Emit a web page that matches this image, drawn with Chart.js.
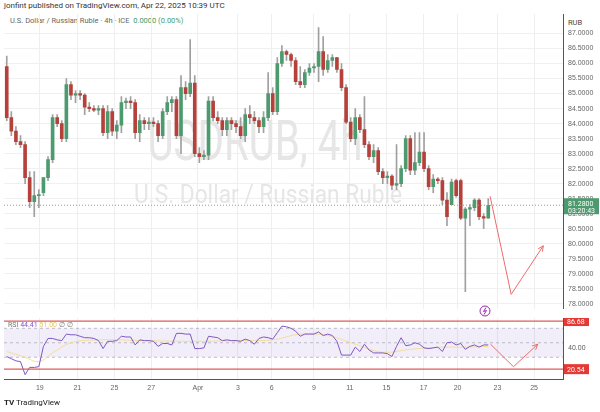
<!DOCTYPE html>
<html>
<head>
<meta charset="utf-8">
<script src="https://cdn.jsdelivr.net/npm/chart.js@4.4.1/dist/chart.umd.min.js"></script>
<style>
  body { margin: 0; width: 600px; height: 412px; background: #fff; font-family: Roboto, "Noto Sans", sans-serif; overflow: hidden; position: relative; }
  #priceWrap { position: absolute; left: 0; top: 0; width: 600px; height: 318px; }
  #rsiWrap { position: absolute; left: 0; top: 318px; width: 600px; height: 78px; }
  .txt { position: absolute; white-space: nowrap; }
</style>
</head>
<body>
<div class="txt" style="left:4px;top:1px;font-size:8px;color:#333;">jonfint published on TradingView.com, Apr 22, 2025 10:39 UTC</div>
<div class="txt" style="left:10px;top:16px;font-size:7.5px;color:#666;">U.S. Dollar / Russian Ruble · 4h · ICE &nbsp;<span style="color:#3f9a6a">0.0000 (0.00%)</span></div>
<div class="txt" style="left:568px;top:18px;font-size:7.5px;color:#444;">RUB</div>
<div id="priceWrap"><canvas id="priceChart"></canvas></div>
<div id="rsiWrap"><canvas id="rsiChart"></canvas></div>
<div class="txt" style="left:8px;top:321px;font-size:7px;color:#777;">RSI <span style="color:#7e57c2">44.41</span> <span style="color:#e8c66a">51.00</span> ∅ ∅</div>
<div class="txt" style="left:4px;top:398px;font-size:8px;color:#222;"><b>TV</b> TradingView</div>
<script>
// Candles (4h), index = position on the time axis
const opens  = [85.9,84.2,83.75,83.4,83.3,82.2,81.4,81.6,81.7,82.2,82.8,84.2,84.0,83.5,85.3,84.95,85.0,84.95,84.55,84.5,84.45,84.5,83.7,84.4,83.75,83.95,84.7,84.75,84.7,83.7,84.1,84.0,84.05,84.0,83.6,84.4,84.7,84.8,83.6,85.2,85.0,85.35,83.0,82.9,82.95,84.75,84.2,84.1,83.8,84.1,84.0,83.9,83.6,84.3,84.2,84.1,83.9,84.2,85.0,84.4,86.0,86.4,86.3,86.1,85.4,85.3,85.7,85.85,85.9,86.4,85.8,86.1,86.2,85.8,85.2,84.05,83.5,84.2,83.8,83.3,82.9,83.1,82.4,82.2,82.25,81.95,82.0,82.5,83.5,82.45,82.7,83.05,82.5,81.9,82.15,82.1,81.45,81.3,82.1,82.1,80.85,81.15,81.2,81.45,80.9,80.85];
const highs  = [86.25,84.4,83.9,83.6,83.4,82.4,82.4,81.8,82.2,82.9,84.3,84.3,84.1,85.5,85.4,85.1,85.1,85.0,84.7,84.6,84.6,84.6,84.6,84.5,84.1,84.9,84.85,84.9,84.8,84.3,84.2,84.2,84.2,84.1,84.5,84.9,84.9,84.9,85.6,85.4,86.8,85.6,83.2,83.1,84.9,84.9,84.4,84.2,84.2,84.2,84.1,84.2,84.5,84.6,84.4,84.2,84.4,85.7,85.2,86.2,86.6,86.45,86.35,86.2,85.9,85.8,86.0,86.0,87.2,86.9,86.3,86.3,86.2,86.0,85.3,84.2,84.5,84.3,84.9,83.4,83.3,83.2,82.5,82.4,82.3,83.3,82.6,83.6,83.6,83.7,83.7,83.7,82.6,82.3,82.2,82.2,81.7,82.15,82.15,82.15,81.2,81.3,81.5,81.5,81.0,81.5];
const lows   = [84.1,83.6,83.3,83.2,82.0,81.2,80.9,81.2,81.6,82.1,82.7,83.9,83.4,83.4,84.8,84.7,84.8,84.3,84.4,84.4,84.3,83.6,83.5,83.6,83.5,83.7,84.5,84.5,83.5,83.4,83.8,83.8,83.9,83.4,83.5,84.3,84.4,83.5,83.0,84.8,84.9,82.9,82.7,82.8,82.8,84.1,84.0,83.6,83.6,83.8,83.7,83.5,83.4,84.0,84.0,83.7,83.7,84.1,84.3,84.3,85.9,86.1,85.9,85.3,85.2,85.2,85.6,85.7,85.4,85.6,85.7,85.9,85.7,85.1,84.0,83.4,83.3,83.7,83.2,82.8,82.7,82.3,82.0,82.0,81.8,81.8,81.9,82.4,82.3,82.3,82.6,82.4,81.8,81.7,82.0,81.3,80.6,81.3,81.55,80.8,78.4,80.6,81.1,80.8,80.5,80.85];
const closes = [84.2,83.75,83.4,83.3,82.2,81.4,81.6,81.6,82.2,82.8,84.2,84.0,83.5,85.3,84.95,85.0,84.95,84.55,84.5,84.45,84.5,83.7,84.4,83.75,83.95,84.7,84.75,84.7,83.7,84.1,84.0,84.05,84.0,83.6,84.4,84.7,84.8,83.6,85.2,85.0,85.35,83.0,82.9,82.95,84.75,84.2,84.1,83.8,84.1,84.0,83.9,83.6,84.3,84.2,84.1,83.9,84.2,85.0,84.4,86.0,86.4,86.3,86.1,85.4,85.3,85.7,85.85,85.9,86.4,85.8,86.1,86.2,85.8,85.2,84.05,83.5,84.2,83.8,83.3,82.9,83.1,82.4,82.2,82.25,81.95,82.0,82.5,83.5,82.45,82.7,83.05,82.5,81.9,82.15,82.1,81.45,80.9,82.05,81.6,80.85,81.15,81.2,81.45,80.9,80.85,81.28];

// RSI(14) line and its moving average
const rsiValues = [31,28,25,24,6,16,16,17,45,56,56,54,53,62,61,61,59,57,57,56,53,42,52,52,53,59,58,58,47,54,53,53,52,45,49,49,47,63,63,62,62,42,42,43,59,58,57,53,54,53,53,52,55,53,48,56,58,57,55,64,73,72,70,66,59,62,62,62,65,60,62,60,52,33,33,33,44,38,48,40,36,36,36,35,31,45,57,46,47,50,48,43,42,43,44,38,50,51,47,49,41,45,47,44,47,47];
const maIdx = [0,4,7,10,14,20,30,40,50,58,64,70,76,82,88,95,100,105];
const maValues = [38,30,24,36,50,54,53,52,53,54,62,60,48,37,41,44,44,45];

// Axis ticks
const tickPos = [7.2,15.4,23.5,31.5,41.7,50.4,57.8,67,74.8,82.8,90.9,98.3,107,115];
const tickLabels = ['19','21','25','27','Apr','3','6','9','11','15','17','20','23','25'];
const priceTicks = [78,78.5,79,79.5,80,80.5,81,81.5,82,82.5,83,83.5,84,84.5,85,85.5,86,86.5,87];
const lastPrice = 81.28;

// Drawn arrows (author's projection)
const arrowIdx = [105.4,110,117];
const arrowPrice = [81.58,78.31,79.93];
const rsiArrowIdx = [105.5,110.5,115.8];
const rsiArrowVal = [48,17,48];
const rsiLines = [80,13.6];
const rsiLineLabels = ['86.68','20.54'];

const UP = '#4e9a6f', DOWN = '#b5413a';
const idx = closes.map((c, i) => i);
const candleColors = idx.map(i => closes[i] >= opens[i] ? UP : DOWN);

function xScale(showTicks) {
  return {
    type: 'linear', min: -0.6, max: 121.3, offset: false,
    afterBuildTicks: s => { s.ticks = tickPos.map(v => ({ value: v })); },
    afterFit: s => { s.height = showTicks ? 17 : 0; },
    grid: { color: '#efefef', drawTicks: false, offset: false },
    border: { display: showTicks, color: '#555' },
    ticks: {
      display: showTicks, color: '#666', font: { size: 7 }, padding: 5, maxRotation: 0, autoSkip: false,
      callback: (v, i) => tickLabels[i]
    }
  };
}

function drawArrowHead(ctx, x0, y0, x1, y1, color) {
  const a = Math.atan2(y1 - y0, x1 - x0), L = 6;
  ctx.save();
  ctx.strokeStyle = color; ctx.lineWidth = 1;
  ctx.beginPath();
  ctx.moveTo(x1 - L * Math.cos(a - 0.45), y1 - L * Math.sin(a - 0.45));
  ctx.lineTo(x1, y1);
  ctx.lineTo(x1 - L * Math.cos(a + 0.45), y1 - L * Math.sin(a + 0.45));
  ctx.stroke();
  ctx.restore();
}

const priceDecor = {
  id: 'priceDecor',
  beforeDatasetsDraw(chart) {
    const ctx = chart.ctx;
    ctx.save();
    ctx.fillStyle = '#e6e6e6';
    ctx.textAlign = 'center';
    ctx.font = '56px Roboto, sans-serif';
    ctx.fillText('USDRUB, 4h', 255, 160, 215);
    ctx.font = '26px Roboto, sans-serif';
    ctx.fillText('U.S. Dollar / Russian Ruble', 268, 203, 268);
    ctx.restore();
  },
  afterDatasetsDraw(chart) {
    const { ctx, chartArea: ca, scales: { x, y } } = chart;
    const py = y.getPixelForValue(lastPrice);
    ctx.save();
    ctx.strokeStyle = '#999'; ctx.setLineDash([1, 2]); ctx.lineWidth = 1;
    ctx.beginPath(); ctx.moveTo(ca.left, py); ctx.lineTo(ca.right, py); ctx.stroke();
    ctx.setLineDash([]);
    ctx.fillStyle = UP;
    ctx.fillRect(ca.right + 1, py - 7, 35, 16);
    ctx.fillStyle = '#fff'; ctx.font = '7px Roboto, sans-serif'; ctx.textAlign = 'left';
    ctx.fillText(lastPrice.toFixed(4), ca.right + 5, py + 1);
    ctx.fillText('03:20:43', ca.right + 5, py + 8);
    // arrow head
    const pts = chart.getDatasetMeta(2).data;
    const n = pts.length;
    drawArrowHead(ctx, pts[n - 2].x, pts[n - 2].y, pts[n - 1].x, pts[n - 1].y, '#f06a6a');
    // alert icon
    ctx.strokeStyle = '#9c27b0'; ctx.lineWidth = 1;
    ctx.beginPath(); ctx.arc(485, 311, 5, 0, Math.PI * 2); ctx.stroke();
    ctx.beginPath(); ctx.moveTo(486, 307.5); ctx.lineTo(483.5, 311.5); ctx.lineTo(486.5, 310.5); ctx.lineTo(484, 314.5); ctx.stroke();
    ctx.restore();
  }
};

new Chart(document.getElementById('priceChart'), {
  data: {
    datasets: [
      { type: 'bar', data: idx.map(i => ({ x: i, y: [lows[i], highs[i]] })), backgroundColor: '#a0a0a0', barThickness: 1, grouped: false, order: 2 },
      { type: 'bar', data: idx.map(i => ({ x: i, y: [opens[i], closes[i]] })), backgroundColor: candleColors, barThickness: 3, minBarLength: 1, grouped: false, order: 1 },
      { type: 'line', data: arrowIdx.map((v, i) => ({ x: v, y: arrowPrice[i] })), borderColor: '#f06a6a', borderWidth: 1, pointRadius: 0, order: 0 }
    ]
  },
  options: {
    responsive: true, maintainAspectRatio: false, animation: false,
    layout: { padding: { left: 4, top: 14, right: 0, bottom: 0 } },
    plugins: { legend: { display: false }, tooltip: { enabled: false } },
    scales: {
      x: xScale(false),
      y: {
        position: 'right', min: 77.83, max: 87.65,
        afterFit: s => { s.width = 37; },
        afterBuildTicks: s => { s.ticks = priceTicks.map(v => ({ value: v })); },
        grid: { color: '#f0f0f0', drawTicks: false },
        border: { color: '#555' },
        ticks: { color: '#666', font: { size: 7 }, padding: 5, callback: v => v.toFixed(4) }
      }
    }
  },
  plugins: [priceDecor]
});

const rsiDecor = {
  id: 'rsiDecor',
  beforeDatasetsDraw(chart) {
    const { ctx, chartArea: ca, scales: { y } } = chart;
    ctx.save();
    ctx.fillStyle = 'rgba(126,87,194,0.10)';
    ctx.fillRect(ca.left, y.getPixelForValue(70), ca.width, y.getPixelForValue(30) - y.getPixelForValue(70));
    ctx.strokeStyle = 'rgba(120,120,140,0.45)'; ctx.setLineDash([3, 3]); ctx.lineWidth = 1;
    [70, 50, 30].forEach(v => {
      const py = y.getPixelForValue(v);
      ctx.beginPath(); ctx.moveTo(ca.left, py); ctx.lineTo(ca.right, py); ctx.stroke();
    });
    ctx.setLineDash([]);
    ctx.restore();
  },
  afterDatasetsDraw(chart) {
    const { ctx, chartArea: ca, scales: { y } } = chart;
    ctx.save();
    ctx.strokeStyle = '#e05a5a'; ctx.lineWidth = 1.2;
    ctx.font = '7px Roboto, sans-serif'; ctx.textAlign = 'left';
    rsiLines.forEach((v, i) => {
      const py = y.getPixelForValue(v);
      ctx.beginPath(); ctx.moveTo(ca.left, py); ctx.lineTo(ca.right, py); ctx.stroke();
      ctx.fillStyle = '#e53935'; ctx.fillRect(ca.right + 1, py - 5, 25, 10);
      ctx.fillStyle = '#fff'; ctx.fillText(rsiLineLabels[i], ca.right + 4, py + 2.5);
    });
    ctx.fillStyle = '#666';
    ctx.fillText('40.00', ca.right + 5, y.getPixelForValue(44) + 2.5);
    const pts = chart.getDatasetMeta(2).data;
    const n = pts.length;
    drawArrowHead(ctx, pts[n - 2].x, pts[n - 2].y, pts[n - 1].x, pts[n - 1].y, '#f06a6a');
    ctx.restore();
  }
};

new Chart(document.getElementById('rsiChart'), {
  type: 'line',
  data: {
    datasets: [
      { data: idx.map(i => ({ x: i, y: rsiValues[i] })), borderColor: '#7e57c2', borderWidth: 1, pointRadius: 0, order: 1 },
      { data: maIdx.map((v, i) => ({ x: v, y: maValues[i] })), borderColor: '#f3dc9a', borderWidth: 1, pointRadius: 0, tension: 0.4, order: 2 },
      { data: rsiArrowIdx.map((v, i) => ({ x: v, y: rsiArrowVal[i] })), borderColor: '#f06a6a', borderWidth: 1, pointRadius: 0, order: 0 }
    ]
  },
  options: {
    responsive: true, maintainAspectRatio: false, animation: false,
    layout: { padding: { left: 4, top: 0, right: 0, bottom: 0 } },
    plugins: { legend: { display: false }, tooltip: { enabled: false } },
    scales: {
      x: xScale(true),
      y: {
        position: 'right', min: 0, max: 84.2,
        afterFit: s => { s.width = 37; },
        grid: { display: false },
        border: { color: '#555' },
        ticks: { display: false }
      }
    }
  },
  plugins: [rsiDecor]
});
</script>
</body>
</html>
